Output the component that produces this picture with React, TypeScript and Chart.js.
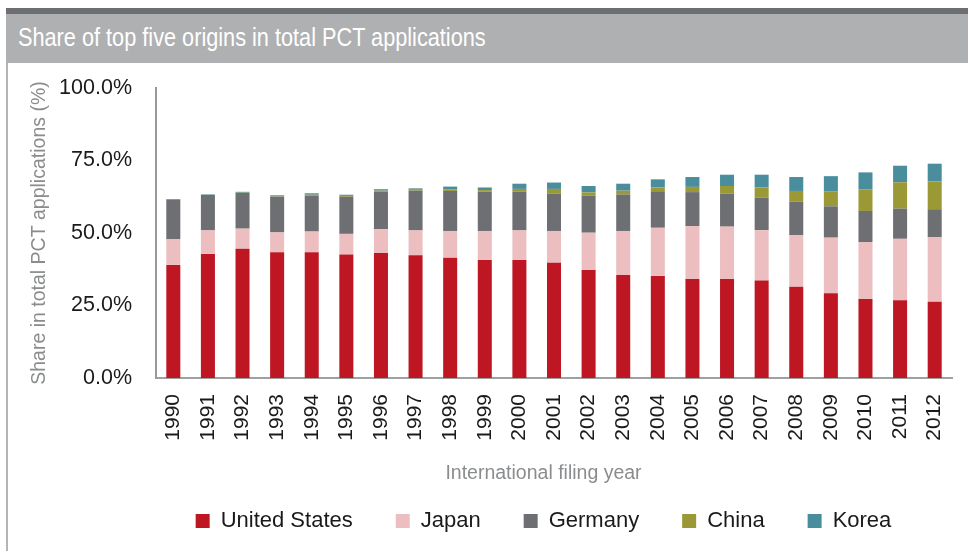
import React, { useEffect, useRef } from "react";
import { Chart, registerables } from "chart.js";

Chart.register(...registerables);

const years = ["1990","1991","1992","1993","1994","1995","1996","1997","1998","1999","2000","2001","2002","2003","2004","2005","2006","2007","2008","2009","2010","2011","2012"];
const unitedStates = [39.0,42.8,44.6,43.4,43.4,42.6,43.1,42.3,41.5,40.7,40.7,39.7,37.2,35.5,35.2,34.1,34.1,33.6,31.5,29.2,27.2,26.8,26.3];
const japan = [8.8,8.1,6.9,6.8,7.1,7.1,8.2,8.6,9.2,10.0,10.2,11.0,12.9,15.2,16.6,18.3,18.1,17.4,17.7,19.2,19.7,21.2,22.3];
const germany = [13.8,12.2,12.3,12.3,12.4,12.8,13.0,13.7,13.8,13.6,13.4,12.9,12.8,12.6,12.6,11.7,11.4,11.2,11.6,10.8,10.7,10.4,9.6];
const china = [0.0,0.0,0.1,0.1,0.3,0.3,0.3,0.3,0.6,0.5,0.9,1.6,1.1,1.3,1.3,1.8,2.6,3.5,3.7,5.2,7.5,9.1,9.6];
const korea = [0.1,0.2,0.3,0.4,0.5,0.4,0.5,0.5,0.9,0.9,1.8,2.2,2.2,2.4,2.8,3.4,3.9,4.4,4.8,5.2,5.8,5.7,6.1];
const yTicks = [0, 25, 50, 75, 100];

const seriesNames = ["United States", "Japan", "Germany", "China", "Korea"];
const seriesColors = ["#BE1622", "#ECBEC0", "#6D6F72", "#9A9935", "#4A8D9D"];

const FONT = "'Liberation Sans', Arial, sans-serif";

export default function App() {
  const ref = useRef<HTMLCanvasElement | null>(null);

  useEffect(() => {
    if (!ref.current) return;
    const values = [unitedStates, japan, germany, china, korea];
    const chart = new Chart(ref.current, {
      type: "bar",
      data: {
        labels: years,
        datasets: seriesNames.map((name, i) => ({
          label: name,
          data: values[i],
          backgroundColor: seriesColors[i],
          borderWidth: 0,
          categoryPercentage: 1,
          barPercentage: 0.405,
        })),
      },
      options: {
        animation: false,
        responsive: false,
        devicePixelRatio: 1,
        layout: { padding: { left: 0, right: 0, top: 25, bottom: 9 } },
        plugins: {
          tooltip: { enabled: false },
          legend: {
            position: "bottom",
            align: "center",
            title: {
              display: true,
              text: "International filing year",
              color: "#8A8C8E",
              font: { family: FONT, size: 19.5 },
              padding: { top: 0, bottom: -20.65 },
            },
            labels: {
              boxWidth: 14,
              boxHeight: 14,
              padding: 43,
              color: "#1A1A1A",
              font: { family: FONT, size: 22 },
            },
          },
        },
        scales: {
          x: {
            stacked: true,
            grid: { display: false, drawTicks: false },
            border: { display: true, color: "#A0A0A0", width: 2 },
            ticks: {
              autoSkip: false,
              maxRotation: 90,
              minRotation: 90,
              padding: 16,
              color: "#1A1A1A",
              font: { family: FONT, size: 21 },
            },
            afterFit: (s: any) => {
              s.height = 86.25;
            },
          },
          y: {
            stacked: true,
            min: 0,
            max: 100,
            grid: { display: false, drawTicks: true, tickLength: 24 },
            border: { display: true, color: "#999999", width: 2 },
            afterBuildTicks: (s: any) => {
              s.ticks = yTicks.map((v) => ({ value: v }));
            },
            ticks: {
              padding: 0,
              color: "#1A1A1A",
              font: { family: FONT, size: 21.5 },
              callback: (v: any) => Number(v).toFixed(1) + "%",
            },
            title: {
              display: true,
              text: "Share in total PCT applications (%)",
              color: "#8A8C8E",
              font: { family: FONT, size: 19.5 },
              padding: { top: 20.3, bottom: 0 },
            },
            afterFit: (s: any) => {
              s.width = 148;
            },
          },
          spacer: {
            type: "linear",
            position: "right",
            display: true,
            grid: { display: false, drawTicks: false },
            border: { display: false },
            ticks: { display: false },
            afterFit: (s: any) => {
              s.width = 127;
            },
          },
        },
      },
    });
    return () => chart.destroy();
  }, []);

  return (
    <div
      style={{
        position: "absolute",
        left: 0,
        top: 0,
        width: 968,
        height: 551,
        overflow: "hidden",
        background: "#FFFFFF",
      }}
    >
      <div style={{ position: "absolute", left: 6, top: 8, width: 962, height: 6, background: "#6D6E71" }} />
      <div style={{ position: "absolute", left: 6, top: 14, width: 962, height: 49, background: "#AFB0B2" }} />
      <div style={{ position: "absolute", left: 6, top: 63, width: 2, height: 488, background: "#B4B4B4" }} />
      <div
        style={{
          position: "absolute",
          left: 18,
          top: 24,
          fontFamily: FONT,
          fontSize: "26.5px",
          lineHeight: "26.5px",
          color: "#FFFFFF",
          whiteSpace: "nowrap",
          transform: "scaleX(0.819)",
          transformOrigin: "0 0",
        }}
      >
        Share of top five origins in total PCT applications
      </div>
      <canvas
        ref={ref}
        width={1071}
        height={488}
        style={{ position: "absolute", left: 8, top: 63, width: 1071, height: 488 }}
      />
    </div>
  );
}
